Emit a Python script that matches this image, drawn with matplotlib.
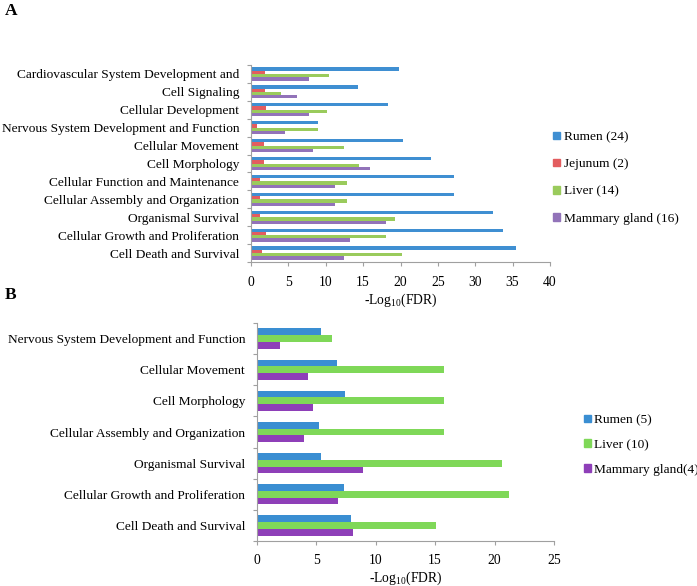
import matplotlib
matplotlib.use("Agg")
import matplotlib.pyplot as plt
import numpy as np
from matplotlib.patches import Patch

plt.rcParams['font.family'] = ['Liberation Serif', 'DejaVu Serif']
plt.rcParams['mathtext.fontset'] = 'custom'
plt.rcParams['mathtext.rm'] = 'Liberation Serif'

# ---- Panel A data (top to bottom) ----
cats_a = ["Cardiovascular System Development and", "Cell Signaling", "Cellular Development",
          "Nervous System Development and Function", "Cellular Movement", "Cell Morphology",
          "Cellular Function and Maintenance", "Cellular Assembly and Organization",
          "Organismal Survival", "Cellular Growth and Proliferation", "Cell Death and Survival"]
rumen_a   = [19.8, 14.3, 18.3, 8.9, 20.3, 24.1, 27.2, 27.2, 32.4, 33.7, 35.4]
jejunum_a = [1.9, 1.9, 2.05, 0.85, 1.7, 1.7, 1.25, 1.25, 1.25, 2.05, 1.5]
liver_a   = [10.5, 4.0, 10.2, 8.9, 12.5, 14.5, 12.9, 12.9, 19.2, 18.1, 20.2]
mammary_a = [7.8, 6.2, 7.8, 4.6, 8.3, 15.9, 11.3, 11.3, 18.0, 13.2, 12.5]
labels_a = ["Rumen (24)", "Jejunum (2)", "Liver (14)", "Mammary gland (16)"]
colors_a = ["#3f8fd2", "#e35d5f", "#9acb5c", "#9273b9"]

# ---- Panel B data (top to bottom) ----
cats_b = ["Nervous System Development and Function", "Cellular Movement", "Cell Morphology",
          "Cellular Assembly and Organization", "Organismal Survival",
          "Cellular Growth and Proliferation", "Cell Death and Survival"]
rumen_b   = [5.4, 6.7, 7.4, 5.2, 5.4, 7.3, 7.9]
liver_b   = [6.35, 15.7, 15.7, 15.7, 20.65, 21.2, 15.1]
mammary_b = [1.9, 4.3, 4.75, 3.95, 8.9, 6.8, 8.1]
labels_b = ["Rumen (5)", "Liver (10)", "Mammary gland(4)"]
colors_b = ["#3a8ed2", "#7fd858", "#8e3fb8"]

W, H = 697, 586
fig = plt.figure(figsize=(W/100, H/100), dpi=100)

def px_axes(l, t, r, b):
    return fig.add_axes([l/W, 1 - b/H, (r-l)/W, (b-t)/H])

axA = px_axes(251, 65, 550, 262)
axB = px_axes(257, 323, 554, 541)

def draw(ax, cats, series, colors, labels, bar_h, xmax, xticks, tpad, lpad):
    n = len(cats)
    k = len(series)
    ypos = np.arange(n)[::-1]  # top category at highest y
    for i, (vals, c, lab) in enumerate(zip(series, colors, labels)):
        offs = ((k - 1) / 2 - i) * bar_h
        ax.barh(ypos + offs, vals, height=bar_h, color=c, label=lab, linewidth=0)
    ax.set_ylim(-0.5, n - 0.5)
    ax.set_xlim(0, xmax)
    ax.set_xticks(xticks)
    ax.set_yticks(ypos)
    ax.set_yticklabels(cats, fontsize=9.6)
    ax.set_yticks(np.arange(-0.5, n, 1.0), minor=True)
    ax.tick_params(axis='y', which='major', length=0, pad=8.5)
    ax.tick_params(axis='y', which='minor', length=3, color='#a0a0a0', width=0.8)
    ax.tick_params(axis='x', length=3, color='#a0a0a0', width=0.8, labelsize=9.8, pad=tpad)
    for s in ['top', 'right']:
        ax.spines[s].set_visible(False)
    for s in ['left', 'bottom']:
        ax.spines[s].set_color('#a0a0a0')
        ax.spines[s].set_linewidth(0.8)
    ax.set_xlabel(r'-Log$_{10}$(FDR)', fontsize=9.8, labelpad=lpad)

draw(axA, cats_a, [rumen_a, jejunum_a, liver_a, mammary_a], colors_a, labels_a,
     0.185, 40, range(0, 41, 5), 7, 2)
draw(axB, cats_b, [rumen_b, liver_b, mammary_b], colors_b, labels_b,
     0.217, 25, range(0, 26, 5), 6, 2.5)

hA = [Patch(color=c) for c in colors_a]
fig.legend(hA, labels_a, loc='upper left', bbox_to_anchor=(548/W, 1 - 126/H),
           frameon=False, fontsize=9.6, handlelength=0.5, handleheight=0.5,
           handletextpad=0.3, labelspacing=1.13, borderaxespad=0)
hB = [Patch(color=c) for c in colors_b]
fig.legend(hB, labels_b, loc='upper left', bbox_to_anchor=(579/W, 1 - 409/H),
           frameon=False, fontsize=9.6, handlelength=0.5, handleheight=0.5,
           handletextpad=0.2, labelspacing=0.95, borderaxespad=0)

fig.text(5/W, 1 - 3/H, 'A', fontsize=12.5, fontweight='bold', va='top', ha='left')
fig.text(5/W, 1 - 287/H, 'B', fontsize=12.5, fontweight='bold', va='top', ha='left')

fig.savefig('out.png', dpi=100)
